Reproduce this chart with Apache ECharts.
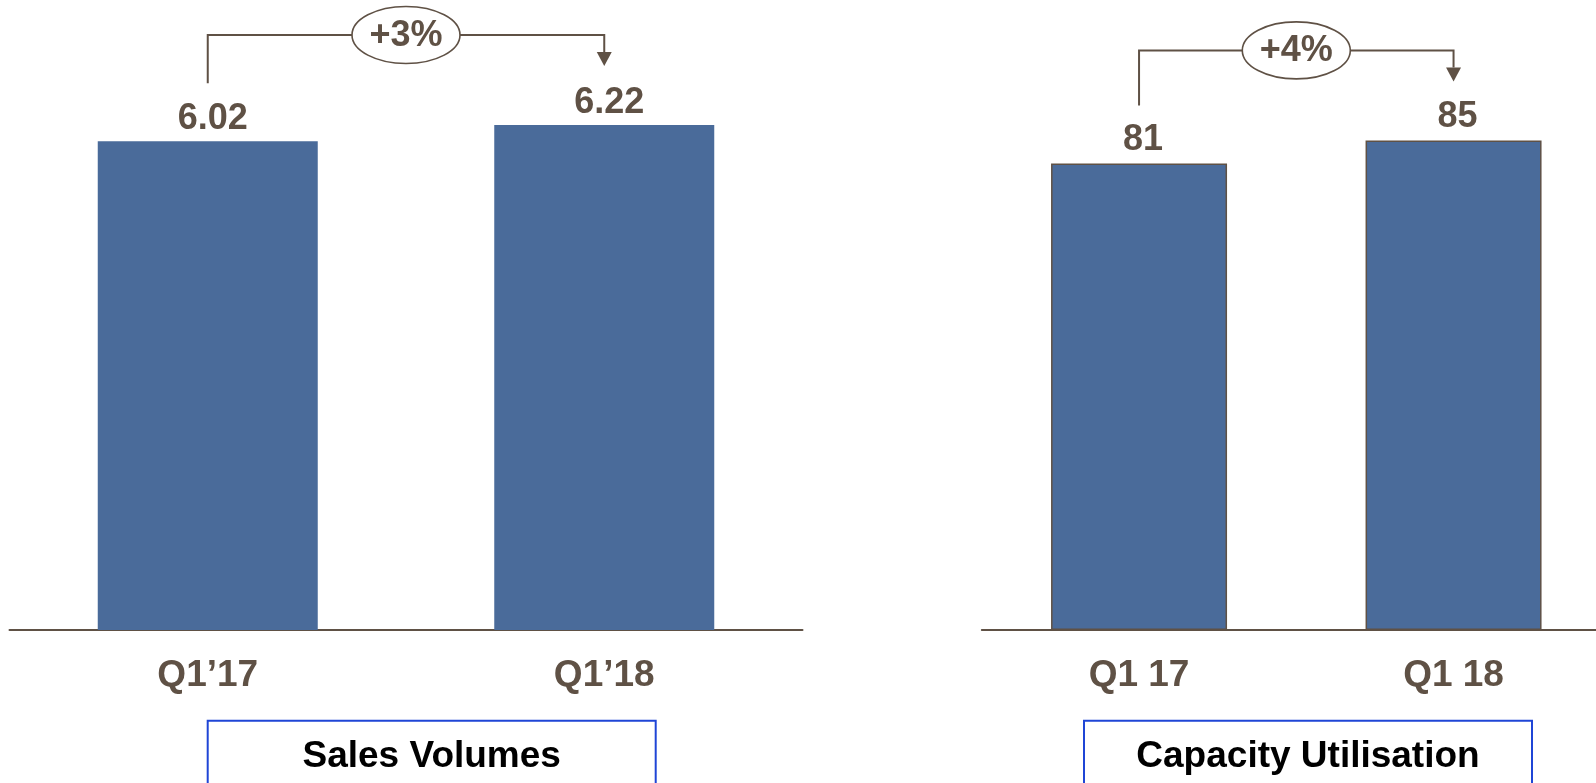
<!DOCTYPE html>
<html>
<head>
<meta charset="utf-8">
<script src="https://cdn.jsdelivr.net/npm/echarts@6/dist/echarts.min.js"></script>
<style>
  html, body { margin: 0; padding: 0; background: #ffffff; }
  #chart { width: 1596px; height: 783px; }
</style>
</head>
<body>
<div id="chart"></div>
<script>
// Quarterly comparison: sales volumes and capacity utilisation
const salesCategories = ['Q1\u201917', 'Q1\u201918'];
const salesValues = [6.02, 6.22];
const capacityCategories = ['Q1 17', 'Q1 18'];
const capacityValues = [81, 85];
const growthLabels = ['+3%', '+4%'];
const panelTitles = ['Sales Volumes', 'Capacity Utilisation'];

const BROWN = '#5f5145';
const BAR_BLUE = '#4a6b9a';
const BOX_BLUE = '#1f45d6';
const FONT = '"Liberation Sans", Arial, sans-serif';

const chart = echarts.init(document.getElementById('chart'), null, { renderer: 'canvas' });

function categoryAxis(gridIndex, data) {
  return {
    type: 'category',
    gridIndex,
    data,
    axisLine: { show: true, lineStyle: { color: BROWN, width: 2 } },
    axisTick: { show: false },
    axisLabel: {
      margin: 27,
      color: BROWN,
      fontFamily: FONT,
      fontWeight: 'bold',
      fontSize: 37
    },
    splitLine: { show: false }
  };
}

function valueAxis(gridIndex, max) {
  return {
    type: 'value',
    gridIndex,
    min: 0,
    max,
    show: false,
    splitLine: { show: false }
  };
}

function barSeries(idx, values, width, bordered, shiftX, gap) {
  return {
    type: 'bar',
    xAxisIndex: idx,
    yAxisIndex: idx,
    data: values,
    barWidth: width,
    silent: true,
    itemStyle: {
      color: BAR_BLUE,
      borderColor: bordered ? BROWN : BAR_BLUE,
      borderWidth: bordered ? 1.5 : 0
    },
    label: {
      show: true,
      position: 'top',
      distance: gap,
      offset: [shiftX, 0],
      color: BROWN,
      fontFamily: FONT,
      fontWeight: 'bold',
      fontSize: 36
    }
  };
}

chart.setOption({
  animation: false,
  backgroundColor: '#ffffff',
  grid: [
    { left: 9.5, width: 793, top: 61.6, height: 568.4, outerBoundsMode: 'none' },
    { left: 981.8, width: 629, top: 54, height: 576, outerBoundsMode: 'none' }
  ],
  xAxis: [categoryAxis(0, salesCategories), categoryAxis(1, capacityCategories)],
  yAxis: [valueAxis(0, 7), valueAxis(1, 100)],
  series: [
    barSeries(0, salesValues, 220, false, 5, 4),
    barSeries(1, capacityValues, 176, true, 4, 5)
  ]
});

// Growth bracket from the first bar to the second, with a labelled ellipse
function bracket(seriesIndex, values, label) {
  const p1 = chart.convertToPixel({ seriesIndex }, [0, values[0]]);
  const p2 = chart.convertToPixel({ seriesIndex }, [1, values[1]]);
  const topY = Math.min(p1[1], p2[1]);
  const lineY = topY - 90;
  const startY = p1[1] - 58;
  const tipY = p2[1] - 59;
  const headH = 14;
  const headW = 7.5;
  const midX = (p1[0] + p2[0]) / 2;
  return [
    {
      type: 'polyline',
      shape: { points: [[p1[0], startY], [p1[0], lineY], [p2[0], lineY], [p2[0], tipY - headH]] },
      style: { stroke: BROWN, lineWidth: 2, fill: null },
      z: 10
    },
    {
      type: 'polygon',
      shape: { points: [[p2[0] - headW, tipY - headH], [p2[0] + headW, tipY - headH], [p2[0], tipY]] },
      style: { fill: BROWN, stroke: null },
      z: 10
    },
    {
      type: 'ellipse',
      shape: { cx: midX, cy: lineY, rx: 54, ry: 28.5 },
      style: { fill: '#ffffff', stroke: BROWN, lineWidth: 1.6 },
      z: 11
    },
    {
      type: 'text',
      x: midX,
      y: lineY + 1,
      style: {
        text: label,
        font: 'bold 36px ' + FONT,
        fill: BROWN,
        align: 'center',
        verticalAlign: 'middle'
      },
      z: 12
    }
  ];
}

// Framed panel caption below each chart
function captionBox(x, text) {
  return [
    {
      type: 'rect',
      shape: { x, y: 720.7, width: 448, height: 90 },
      style: { fill: '#ffffff', stroke: BOX_BLUE, lineWidth: 2 },
      z: 5
    },
    {
      type: 'text',
      x: x + 224,
      y: 757,
      style: {
        text,
        font: 'bold 37px ' + FONT,
        fill: '#000000',
        align: 'center',
        verticalAlign: 'middle'
      },
      z: 6
    }
  ];
}

chart.setOption({
  graphic: [].concat(
    bracket(0, salesValues, growthLabels[0]),
    bracket(1, capacityValues, growthLabels[1]),
    captionBox(207.7, panelTitles[0]),
    captionBox(1084, panelTitles[1])
  )
});
</script>
</body>
</html>
